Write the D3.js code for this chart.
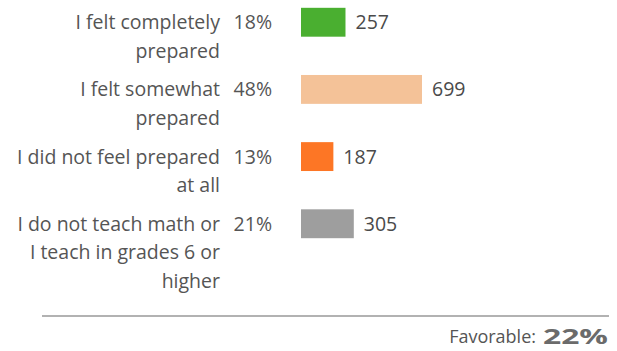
<!DOCTYPE html>
<html><head><meta charset="utf-8">
<script src="https://cdn.jsdelivr.net/npm/d3@7"></script>
<style>
html,body{margin:0;padding:0;background:#fff;}
text{font-family:"Open Sans", Lato, sans-serif;}
</style></head>
<body>
<svg id="c" width="617" height="351"></svg>
<script>
const categories = ["I felt completely\nprepared", "I felt somewhat\nprepared", "I did not feel prepared\nat all", "I do not teach math or\nI teach in grades 6 or\nhigher"];
const counts = [257, 699, 187, 305];
const percents = ["18%", "48%", "13%", "21%"];
const colors = ["#4aaf30", "#f4c298", "#fd7625", "#9e9e9e"];
const favorableLabel = "Favorable:";
const favorableValue = "22%";

const svg = d3.select("#c");
const x = d3.scaleLinear().domain([0, 699]).range([301, 422]);
const y = d3.scaleBand().domain(d3.range(categories.length)).range([-11, 257]).paddingInner(0.57).paddingOuter(0.28);
const fs = 19.5, lh = 28.5, txt = "#555";

const rows = svg.append("g").selectAll("g.row").data(categories).join("g").attr("class","row");

rows.append("rect")
  .attr("x", x(0))
  .attr("y", (d,i)=>y(i))
  .attr("width", (d,i)=>x(counts[i]) - x(0))
  .attr("height", y.bandwidth())
  .attr("fill", (d,i)=>colors[i]);

rows.append("text")
  .attr("x", (d,i)=>x(counts[i]) + 10)
  .attr("y", (d,i)=>y(i) + y.bandwidth()/2 + 7)
  .attr("font-size", fs).attr("fill", "#4a4a4a")
  .text((d,i)=>counts[i]);

rows.append("text")
  .attr("x", 272)
  .attr("y", (d,i)=>y(i) + y.bandwidth()/2 + 7)
  .attr("text-anchor","end")
  .attr("font-size", fs).attr("fill", txt)
  .text((d,i)=>percents[i]);

rows.each(function(d,i){
  const lines = d.split("\n");
  const t = d3.select(this).append("text")
    .attr("text-anchor","end")
    .attr("font-size", fs).attr("fill", txt);
  lines.forEach((l,j)=>{
    t.append("tspan").attr("x",220)
      .attr("y", y(i) + y.bandwidth()/2 + 7 + j*lh)
      .text(l);
  });
});

svg.append("line").attr("x1",42).attr("x2",609).attr("y1",316).attr("y2",316)
  .attr("stroke","#999").attr("stroke-width",1.5);

svg.append("text").attr("x",543).attr("y",344)
  .attr("font-family","'DejaVu Sans', sans-serif")
  .attr("font-size",21).attr("font-weight","bold").attr("fill","#6b6b6b")
  .attr("textLength",65).attr("lengthAdjust","spacingAndGlyphs")
  .text(favorableValue);
svg.append("text").attr("x",536).attr("y",343).attr("text-anchor","end")
  .attr("font-size",18).attr("fill",txt).text(favorableLabel);
</script>
</body></html>
